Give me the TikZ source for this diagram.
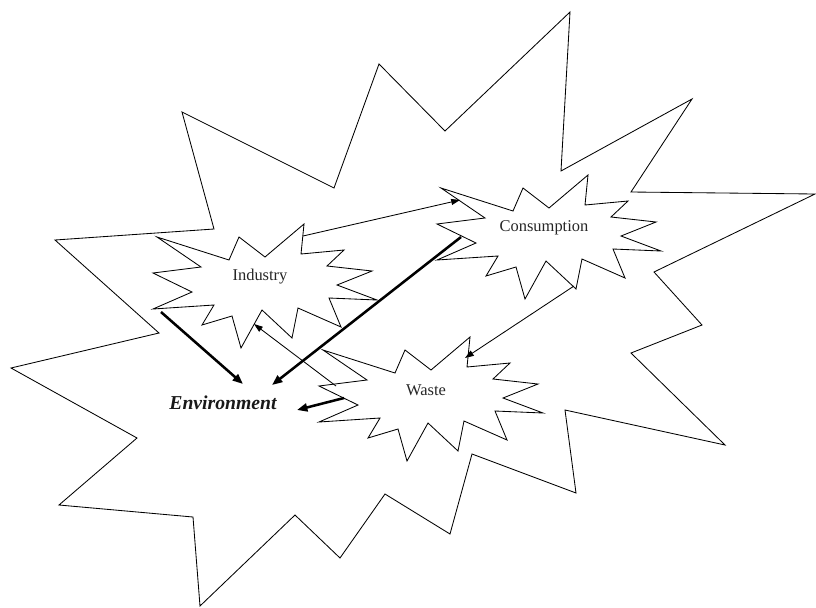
\documentclass[tikz,border=0pt]{standalone}
\usepackage{fontspec}
\setmainfont{Liberation Serif}
\usepackage{tikz}
\usetikzlibrary{arrows.meta,calc}

% outline of the small bursts, relative to their label
\newcommand{\burstpath}{(-103,-40) -- (-31,-17) -- (-21,-40) -- (5,-20) -- (44,-53) -- (41,-23)
  -- (84,-27) -- (67,-11) -- (112,-6) -- (77,8) -- (117,23) -- (69,21) -- (81,50) -- (38,31)
  -- (32,61) -- (2,33) -- (-19,71) -- (-28,39) -- (-58,48) -- (-46,28) -- (-107,32) -- (-68,15)
  -- (-107,-4) -- (-59,-10) -- cycle}

\begin{document}
\begin{tikzpicture}[
    x=0.025cm, y=-0.025cm,
    lab/.style={font=\fontsize{11.7}{14}\selectfont, text=black!85, inner sep=1pt},
    envlab/.style={font=\fontsize{14}{16}\selectfont\bfseries\itshape, text=black!90, inner sep=1pt},
    burst/.style={draw=black, line width=0.6pt, line join=miter},
    thinarr/.style={-{Triangle[length=2.2mm, width=1.5mm]}, line width=0.6pt},
    thickarr/.style={-{Triangle[length=2.6mm, width=2mm]}, line width=1.8pt}
  ]
    \useasboundingbox (0,0) rectangle (816,607);
    % big burst
    \draw[burst] (55,240) -- (214,229) -- (182,112) -- (334,188) -- (379,64) -- (445,131)
      -- (570,12) -- (561,171) -- (692,99) -- (631,192) -- (815,194) -- (654,272)
      -- (702,325) -- (631,353) -- (725,445) -- (565,410) -- (576,493) -- (472,454)
      -- (450,534) -- (385,494) -- (340,558) -- (295,515) -- (200,606) -- (193,517)
      -- (59,505) -- (137,438) -- (11,368) -- (159,333) -- cycle;

    \node[lab] (ind) at (260,277) {Industry};
    \node[lab] (con) at (544,228) {Consumption};
    \node[lab] (waste) at (426,390) {Waste};
    \node[envlab] (env) at (223,403) {Environment};

    \draw[burst, shift={(ind)}] \burstpath;
    \draw[burst, shift={(con)}] \burstpath;
    \draw[burst, shift={(waste)}] \burstpath;

    \draw[thinarr] ($(ind)+(43,-41)$) -- ($(con)+(-84,-28)$);
    \draw[thinarr] ($(con)+(30,58)$) -- ($(waste)+(39,-32)$);
    \draw[thinarr] ($(waste)+(-90,-4)$) -- ($(ind)+(-6,47)$);
    \draw[thickarr] ($(ind)+(-99,35)$) -- ($(env)+(20,-19)$);
    \draw[thickarr] ($(con)+(-83,9)$) -- ($(env)+(49,-18)$);
    \draw[thickarr] ($(waste)+(-82,8)$) -- ($(env)+(74,7)$);
  \end{tikzpicture}
\end{document}
